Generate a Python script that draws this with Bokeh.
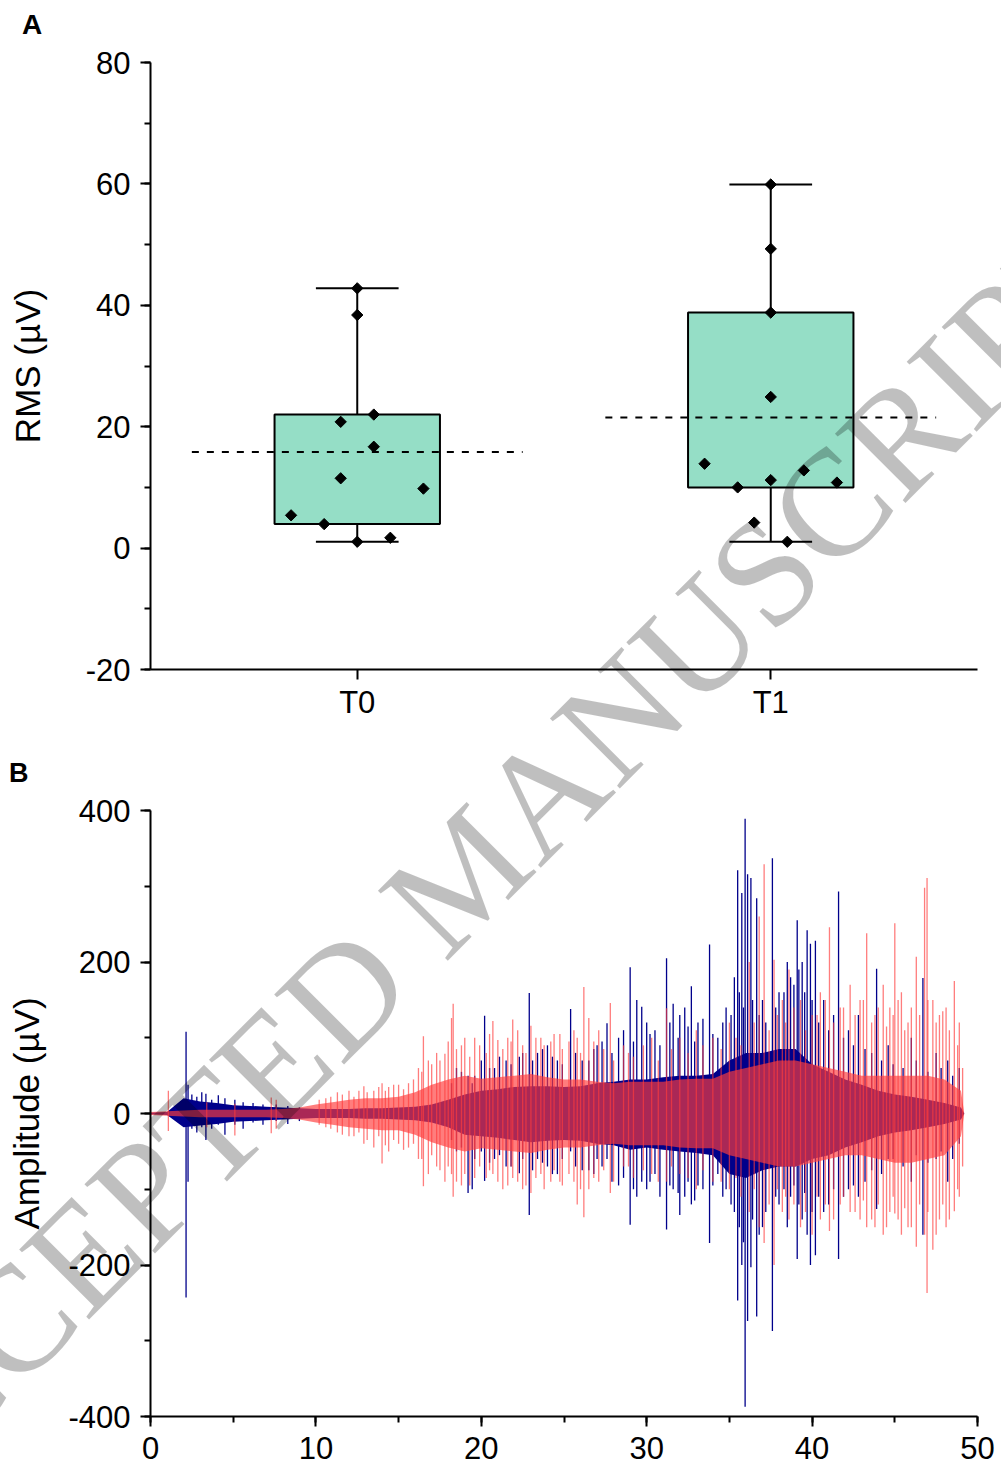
import numpy as np
from bokeh.plotting import figure
from bokeh.models import Range1d, FixedTicker, SingleIntervalTicker, Div
from bokeh.layouts import column
from bokeh.embed import file_html
from bokeh.resources import INLINE

# ---------------- Panel A data (RMS, µV) ----------------
groups = ["T0", "T1"]
t0_rms = [42.8, 38.4, 22.0, 20.8, 16.7, 11.5, 9.8, 5.4, 3.95, 1.7, 1.04]
t1_rms = [59.9, 49.3, 38.8, 24.9, 13.9, 12.8, 11.2, 10.8, 10.0, 4.2, 1.04]
t0_jitter = [0, 0, 0.04, -0.04, 0.04, -0.04, 0.16, -0.16, -0.08, 0.08, 0]
t1_jitter = [0, 0, 0, 0, -0.16, 0.08, 0, 0.16, -0.08, -0.04, 0.04]

# ---------------- Panel B data (amplitude, µV) ----------------
env_t = [0, 1, 2, 3, 4, 5, 6, 7, 8, 9, 10, 11, 12, 13, 14, 15, 16, 17, 18, 19,
         20, 21, 22, 23, 24, 25, 26, 27, 28, 29, 30, 31, 32, 33, 34, 35, 36, 37, 38, 39,
         40, 41, 42, 43, 44, 45, 46, 47, 48, 49, 49.2]
blue_hi = [1, 2, 20, 16, 14, 11, 10, 9, 8, 7, 6, 6, 6, 7, 7, 8, 9, 12, 18, 25,
           30, 32, 35, 36, 36, 35, 36, 40, 42, 45, 45, 48, 50, 50, 52, 70, 80, 80, 85, 85,
           65, 55, 45, 38, 30, 25, 22, 18, 14, 8, 0]
blue_lo = [-1, -2, -18, -16, -14, -11, -10, -9, -8, -7, -6, -6, -6, -7, -7, -8, -9, -12, -18, -28,
           -30, -32, -35, -38, -36, -35, -36, -40, -42, -48, -45, -48, -50, -52, -55, -80, -85, -75, -70, -70,
           -60, -55, -45, -38, -30, -25, -22, -18, -14, -8, 0]
red_hi = [2, 3, 4, 5, 5, 5, 5, 5, 6, 8, 12, 15, 18, 20, 20, 22, 28, 38, 45, 50,
          46, 48, 50, 52, 48, 45, 45, 42, 40, 42, 42, 42, 45, 46, 46, 55, 60, 65, 70, 70,
          65, 60, 55, 50, 50, 50, 50, 50, 45, 30, 0]
red_lo = [-2, -3, -4, -5, -5, -5, -5, -5, -6, -8, -12, -15, -18, -20, -22, -22, -28, -38, -45, -50,
          -46, -48, -50, -52, -48, -45, -45, -42, -40, -42, -42, -42, -45, -46, -46, -55, -60, -65, -70, -70,
          -65, -60, -55, -55, -60, -65, -65, -60, -55, -30, 0]

# large individual spikes
blue_spk_t = [2.15, 2.27, 2.5, 2.8, 3.1, 3.35, 3.7, 4.1, 4.5, 5.1, 5.6, 6.2, 6.8, 7.6, 8.3, 9.0,
              18.5, 19.2, 19.45, 20.2, 20.8, 21.5, 22.3, 22.9, 23.4, 24.0, 24.6, 25.4, 26.5, 27.0,
              27.6, 28.3, 29.0, 29.4, 29.7, 30.0, 30.5, 31.2, 31.6, 32.0, 32.3, 32.7, 33.1, 33.8,
              34.3, 34.8, 35.3, 35.5, 35.75, 35.95, 36.1, 36.3, 36.65, 37.0, 37.6, 38.0, 38.5,
              39.1, 39.4, 39.7, 39.9, 40.2, 40.7, 41.6, 42.2, 42.8, 43.9, 44.6, 46.0, 46.7, 47.5,
              48.2, 48.9]
blue_spk_hi = [108, 38, 25, 22, 28, 26, 18, 24, 20, 18, 15, 14, 12, 12, 10, 8,
               60, 50, 40, 129, 60, 70, 75, 159, 80, 90, 70, 138, 70, 90,
               119, 100, 193, 150, 141, 120, 110, 205, 145, 130, 140, 168, 120, 223,
               100, 140, 180, 321, 291, 389, 316, 311, 284, 150, 337, 160, 200,
               255, 200, 242, 224, 228, 150, 293, 110, 130, 191, 90, 100, 179, 80,
               70, 60]
blue_spk_lo = [-243, -90, -20, -25, -18, -35, -20, -15, -28, -15, -20, -12, -15, -10, -14, -10,
               -50, -105, -100, -89, -60, -70, -79, -134, -60, -70, -80, -50, -75, -60,
               -60, -95, -147, -110, -90, -100, -80, -153, -100, -134, -110, -120, -95, -171,
               -80, -100, -130, -247, -200, -387, -274, -203, -268, -150, -287, -120, -150,
               -192, -140, -160, -200, -187, -130, -192, -100, -110, -126, -60, -90, -160, -60,
               -90, -40]

red_spk_t = [1.08, 3.4, 5.1, 7.3, 7.6, 10.6, 11.3, 12.0, 12.9, 13.5, 14.0, 14.4, 15.0, 15.6,
             16.2, 16.5, 16.8, 17.3, 17.8, 18.2, 18.3, 18.8, 19.6, 20.7, 21.0, 21.6, 21.9, 22.5,
             23.0, 23.6, 24.2, 24.75, 25.8, 26.2, 26.5, 27.1, 27.8, 28.6, 30.3, 31.2, 32.0, 33.0,
             34.0, 35.0, 36.2, 36.8, 37.1, 37.7, 38.2, 38.6, 39.3, 40.0, 40.5, 41.05, 41.7, 42.3,
             42.9, 43.3, 43.8, 44.3, 44.7, 45.0, 45.4, 45.8, 46.3, 46.8, 46.95, 47.3, 47.7, 48.1,
             48.6, 48.9]
red_spk_hi = [30, 15, 13, 21, 18, 20, 28, 30, 36, 30, 40, 35, 38, 40,
              60, 102, 70, 80, 79, 126, 145, 90, 100, 122, 97, 100, 124, 90,
              116, 100, 95, 105, 100, 167, 126, 110, 146, 90, 100, 139, 100, 110,
              100, 120, 200, 260, 329, 203, 150, 190, 150, 130, 160, 246, 140, 170,
              150, 238, 130, 170, 140, 251, 160, 120, 207, 298, 311, 150, 130, 140,
              175, 120]
red_spk_lo = [-23, -18, -29, -26, -20, -18, -25, -30, -40, -45, -66, -50, -40, -45,
              -60, -96, -80, -70, -90, -80, -110, -95, -85, -80, -90, -95, -85, -100,
              -105, -80, -90, -90, -120, -137, -100, -90, -105, -70, -80, -90, -80, -100,
              -90, -100, -130, -150, -171, -200, -130, -140, -150, -160, -140, -155, -120, -130,
              -140, -150, -150, -160, -130, -132, -160, -150, -176, -160, -237, -180, -140, -150,
              -129, -110]

# medium "grass" bursts
blue_grass_t = [18.2, 18.8, 19.6, 20.0, 20.5, 21.1, 21.8, 22.5, 23.1, 23.7, 24.3, 24.9, 25.7, 26.1,
                26.8, 27.3, 27.9, 28.6, 29.2, 30.2, 30.8, 31.4, 31.9, 32.5, 32.9, 33.4, 34.0, 34.6,
                35.1, 35.6, 35.85, 36.4, 36.8, 37.2, 37.8, 38.3, 38.7, 38.9, 39.2, 39.55, 40.0, 40.4,
                41.0, 41.3, 41.9, 42.5, 43.2, 43.6, 44.2, 44.9, 45.5, 46.3, 47.0, 47.8, 48.5]
blue_grass_hi = [40, 55, 50, 70, 60, 75, 65, 80, 70, 85, 75, 65, 80, 70,
                 85, 95, 80, 110, 95, 105, 90, 120, 100, 115, 95, 125, 105, 120,
                 130, 160, 140, 150, 130, 120, 140, 160, 180, 170, 190, 160, 150, 120,
                 110, 130, 100, 90, 85, 80, 70, 65, 60, 70, 55, 60, 50]
blue_grass_lo = [-35, -45, -60, -50, -65, -55, -70, -60, -75, -65, -80, -60, -70, -75,
                 -80, -70, -90, -85, -100, -90, -110, -95, -105, -90, -115, -100, -95, -110,
                 -120, -150, -170, -140, -160, -130, -110, -100, -110, -95, -120, -105, -130, -110,
                 -120, -100, -110, -95, -90, -75, -80, -60, -70, -55, -65, -50, -60]

red_grass_t = [10.2, 10.9, 11.6, 12.3, 12.6, 13.1, 13.8, 14.2, 14.7, 15.3, 15.9, 16.4, 17.0, 17.5,
               18.0, 18.5, 19.0, 19.3, 19.9, 20.3, 20.5, 21.3, 21.8, 22.2, 22.7, 23.3, 23.8, 24.4,
               24.9, 25.3, 25.6, 26.0, 26.8, 27.4, 28.0, 28.9, 29.2, 29.8, 30.7, 31.5, 32.5, 33.4,
               34.5, 35.4, 35.7, 36.5, 37.4, 37.9, 38.4, 38.9, 39.6, 40.3, 40.8, 41.3, 41.9, 42.6,
               43.1, 43.6, 44.0, 44.5, 44.9, 45.2, 45.6, 46.0, 46.5, 47.0, 47.5, 47.9, 48.3, 48.8,
               49.1]
red_grass_hi = [18, 22, 25, 22, 30, 28, 35, 30, 38, 32, 45, 55, 65, 70,
                95, 85, 100, 75, 90, 80, 105, 85, 95, 110, 80, 100, 90, 105,
                85, 95, 110, 80, 95, 85, 70, 80, 75, 90, 70, 85, 80, 90,
                85, 100, 90, 120, 110, 130, 120, 140, 110, 130, 150, 120, 140, 130,
                150, 120, 140, 115, 130, 150, 110, 140, 130, 150, 120, 135, 110, 90,
                60]
red_grass_lo = [-15, -20, -28, -30, -25, -35, -30, -42, -35, -48, -40, -60, -55, -75,
                -70, -90, -80, -95, -70, -85, -75, -100, -70, -90, -95, -85, -100, -75,
                -95, -80, -90, -100, -85, -75, -90, -70, -85, -75, -90, -70, -85, -75,
                -90, -85, -110, -100, -120, -100, -110, -120, -130, -110, -120, -140, -110, -130,
                -115, -140, -120, -150, -110, -140, -125, -150, -120, -130, -160, -120, -140, -100,
                -70]

FONT = "Liberation Sans"
WM_TEXT = "ACCEPTED MANUSCRIPT"


def style_axis(ax, label_standoff, tick_standoff):
    ax.axis_line_width = 2
    ax.axis_line_color = "black"
    ax.major_tick_line_width = 2
    ax.minor_tick_line_width = 2
    ax.major_tick_out = 10
    ax.major_tick_in = 0
    ax.minor_tick_out = 6
    ax.minor_tick_in = 0
    ax.major_label_text_font = FONT
    ax.major_label_text_font_size = "31px"
    ax.major_label_text_color = "black"
    ax.major_label_standoff = tick_standoff
    ax.axis_label_text_font = FONT
    ax.axis_label_text_font_size = "35px"
    ax.axis_label_text_font_style = "normal"
    ax.axis_label_text_color = "black"
    ax.axis_label_standoff = label_standoff


# ================= Panel A =================
pA = figure(width=1001, height=740, output_backend="svg", toolbar_location=None,
            x_range=Range1d(0.5, 2.5), y_range=Range1d(-20, 80),
            min_border_left=150, min_border_right=24, min_border_top=62, min_border_bottom=71)
pA.outline_line_color = None
pA.xgrid.visible = False
pA.ygrid.visible = False
pA.background_fill_color = "white"
pA.border_fill_color = "white"

xpos = np.arange(1, len(groups) + 1)
data_sets = [t0_rms, t1_rms]
jitters = [t0_jitter, t1_jitter]
q1 = np.array([np.percentile(d, 25, method="weibull") for d in data_sets])
q3 = np.array([np.percentile(d, 75, method="weibull") for d in data_sets])
vmin = np.array([min(d) for d in data_sets])
vmax = np.array([max(d) for d in data_sets])
vmean = np.array([np.mean(d) for d in data_sets])

pA.segment(x0=xpos, y0=q3, x1=xpos, y1=vmax, line_color="black", line_width=2)
pA.segment(x0=xpos, y0=q1, x1=xpos, y1=vmin, line_color="black", line_width=2)
pA.segment(x0=xpos - 0.1, y0=vmax, x1=xpos + 0.1, y1=vmax, line_color="black", line_width=2)
pA.segment(x0=xpos - 0.1, y0=vmin, x1=xpos + 0.1, y1=vmin, line_color="black", line_width=2)
pA.quad(left=xpos - 0.2, right=xpos + 0.2, bottom=q1, top=q3,
        fill_color="#95DEC6", line_color="black", line_width=2)
pA.segment(x0=xpos - 0.4, y0=vmean, x1=xpos + 0.4, y1=vmean,
           line_color="black", line_width=2, line_dash="7 8")
for i, (d, j) in enumerate(zip(data_sets, jitters)):
    pA.scatter(x=xpos[i] + np.array(j), y=d, marker="square", angle=np.pi / 4,
               size=8, fill_color="black", line_color="black")

pA.xaxis.ticker = FixedTicker(ticks=list(xpos))
pA.xaxis.major_label_overrides = {int(x): g for x, g in zip(xpos, groups)}
pA.xaxis.minor_tick_line_color = None
pA.yaxis.ticker = SingleIntervalTicker(interval=20, num_minor_ticks=2)
pA.yaxis.major_label_overrides = {-20: "-20"}
pA.yaxis.axis_label = "RMS (µV)"
for ax in pA.xaxis:
    style_axis(ax, 10, 5)
for ax in pA.yaxis:
    style_axis(ax, 36, 10)

# ================= Panel B =================
pB = figure(width=1001, height=730, output_backend="svg", toolbar_location=None,
            x_range=Range1d(0, 50), y_range=Range1d(-400, 400),
            min_border_left=150, min_border_right=24, min_border_top=70, min_border_bottom=54)
pB.outline_line_color = None
pB.xgrid.visible = False
pB.ygrid.visible = False
pB.background_fill_color = "white"
pB.border_fill_color = "white"

BLUE = "#00008B"
RED = "#FF3C3C"
RED_A = 0.667

pB.varea(x=env_t, y1=blue_lo, y2=blue_hi, fill_color=BLUE)
pB.segment(x0=blue_grass_t, y0=blue_grass_lo, x1=blue_grass_t, y1=blue_grass_hi,
           line_color=BLUE, line_width=1.3)
pB.segment(x0=blue_spk_t, y0=blue_spk_lo, x1=blue_spk_t, y1=blue_spk_hi,
           line_color=BLUE, line_width=1.3)
pB.varea(x=env_t, y1=red_lo, y2=red_hi, fill_color=RED, fill_alpha=RED_A)
pB.segment(x0=red_grass_t, y0=red_grass_lo, x1=red_grass_t, y1=red_grass_hi,
           line_color=RED, line_alpha=RED_A, line_width=1.3)
pB.segment(x0=red_spk_t, y0=red_spk_lo, x1=red_spk_t, y1=red_spk_hi,
           line_color=RED, line_alpha=RED_A, line_width=1.3)

pB.xaxis.ticker = SingleIntervalTicker(interval=10, num_minor_ticks=2)
pB.yaxis.ticker = SingleIntervalTicker(interval=200, num_minor_ticks=2)
pB.yaxis.major_label_overrides = {-200: "-200", -400: "-400"}
pB.yaxis.axis_label = "Amplitude (µV)"
for ax in pB.xaxis:
    style_axis(ax, 10, 10)
for ax in pB.yaxis:
    style_axis(ax, 19, 10)

# overlay: panel letters and the watermark, positioned on the page
# (the overlay element sits at the bottom of the page)
ov_top = -1475
ov_left = -6
wm = Div(width=1001, height=0, text=(
    f'<div style="position:absolute; left:{ov_left + 23}px; top:{ov_top + 11}px; font-family:\'{FONT}\';'
    ' font-size:28px; font-weight:bold; line-height:1; color:black; white-space:nowrap;">A</div>'
    f'<div style="position:absolute; left:{ov_left + 10}px; top:{ov_top + 760}px; font-family:\'{FONT}\';'
    ' font-size:27px; font-weight:bold; line-height:1; color:black; white-space:nowrap;">B</div>'
    f'<div style="position:absolute; left:{ov_left + 465}px; top:{ov_top + 873}px; width:0; height:0; overflow:visible;">'
    '<div style="position:absolute; left:0; top:0; transform:translate(-50%,-50%) rotate(-45deg);'
    ' white-space:nowrap; font-family:\'Liberation Serif\'; font-size:151px; line-height:1;'
    ' color:rgba(0,0,0,0.25); pointer-events:none; z-index:10;">' + WM_TEXT + '</div></div>'))

layout = column(pA, pB, wm, spacing=0)
open("out.html", "w").write(file_html(layout, INLINE))
